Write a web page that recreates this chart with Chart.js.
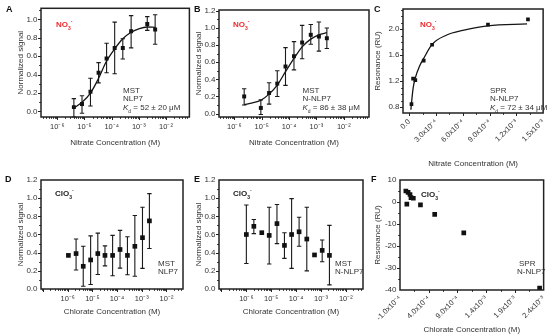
<!DOCTYPE html>
<html>
<head>
<meta charset="utf-8">
<script src="https://cdn.jsdelivr.net/npm/chart.js@4.4.0/dist/chart.umd.min.js"></script>
<style>
  body { margin: 0; background: #fff; width: 554px; height: 336px; position: relative; overflow: hidden;
         font-family: "Liberation Sans", Arial, Helvetica, sans-serif; }
  canvas { position: absolute; }
  .t { position: absolute; white-space: nowrap; font-size: 8px; line-height: 1; color: #333; }
  .lt { font-weight: bold; font-size: 9px; color: #111; }
  .ion { font-weight: bold; color: #222; }
  .red { color: #ee2a2e; }
  .t sub, .t sup { font-size: 5px; line-height: 0; }
</style>
</head>
<body>
<canvas id="cA"></canvas>
<canvas id="cB"></canvas>
<canvas id="cC"></canvas>
<canvas id="cD"></canvas>
<canvas id="cE"></canvas>
<canvas id="cF"></canvas>

<div class="t lt" style="left:6px;top:5px">A</div>
<div class="t lt" style="left:194px;top:5px">B</div>
<div class="t lt" style="left:374px;top:5px">C</div>
<div class="t lt" style="left:5px;top:175px">D</div>
<div class="t lt" style="left:194px;top:175px">E</div>
<div class="t lt" style="left:371px;top:175px">F</div>

<div class="t ion red" style="left:56px;top:20.5px">NO<sub>3</sub><sup>-</sup></div>
<div class="t ion red" style="left:233px;top:20.5px">NO<sub>3</sub><sup>-</sup></div>
<div class="t ion red" style="left:420px;top:20.5px">NO<sub>3</sub><sup>-</sup></div>
<div class="t ion" style="left:55px;top:190px">ClO<sub>3</sub><sup>-</sup></div>
<div class="t ion" style="left:233px;top:190px">ClO<sub>3</sub><sup>-</sup></div>
<div class="t ion" style="left:421px;top:191px">ClO<sub>3</sub><sup>-</sup></div>

<div class="t" style="left:123px;top:86.5px">MST</div>
<div class="t" style="left:123px;top:95px">NLP7</div>
<div class="t" style="left:123px;top:104px"><i>K</i><sub>d</sub> = 52 ± 20 μM</div>
<div class="t" style="left:302.5px;top:86.5px">MST</div>
<div class="t" style="left:302.5px;top:95px">N-NLP7</div>
<div class="t" style="left:302.5px;top:104px"><i>K</i><sub>d</sub> = 86 ± 38 μM</div>
<div class="t" style="left:490px;top:86.5px">SPR</div>
<div class="t" style="left:490px;top:95px">N-NLP7</div>
<div class="t" style="left:490px;top:104px"><i>K</i><sub>d</sub> = 72 ± 34 μM</div>
<div class="t" style="left:158px;top:260px">MST</div>
<div class="t" style="left:158px;top:268px">NLP7</div>
<div class="t" style="left:335px;top:260px">MST</div>
<div class="t" style="left:335px;top:268px">N-NLP7</div>
<div class="t" style="left:519px;top:260px">SPR</div>
<div class="t" style="left:517px;top:268px">N-NLP7</div>

<script>
var FONT = '"Liberation Sans", Arial, Helvetica, sans-serif';

// ---- A : MST, NLP7, nitrate ----
var concA = [4.07e-6, 8.1e-6, 1.66e-5, 3.3e-5, 6.5e-5, 1.29e-4, 2.57e-4, 5.2e-4, 2.04e-3, 3.98e-3];
var sigA  = [0.047, 0.08, 0.215, 0.42, 0.575, 0.69, 0.69, 0.87, 0.95, 0.89];
var hiA   = [0.14, 0.17, 0.36, 0.53, 0.74, 0.97, 0.79, 1.04, 1.03, 1.05];
var loA   = [-0.06, -0.02, 0.06, 0.31, 0.42, 0.41, 0.57, 0.69, 0.88, 0.73];
var fitAx = [4.07e-6, 8.1e-6, 1.66e-5, 3.3e-5, 6.3e-5, 1.29e-4, 2.57e-4, 5.2e-4, 1.05e-3, 2.0e-3, 3.98e-3];
var fitAy = [0.036, 0.10, 0.20, 0.36, 0.54, 0.68, 0.79, 0.86, 0.90, 0.917, 0.914];

// ---- B : MST, N-NLP7, nitrate ----
var concB = [2.29e-6, 9.3e-6, 1.86e-5, 3.7e-5, 7.4e-5, 1.51e-4, 3.0e-4, 6.2e-4, 1.23e-3, 2.4e-3];
var sigB  = [0.20, 0.066, 0.24, 0.35, 0.55, 0.67, 0.83, 0.92, 0.90, 0.88];
var hiB   = [0.29, 0.16, 0.36, 0.50, 0.77, 0.84, 1.03, 1.04, 1.07, 1.00];
var loB   = [0.10, -0.01, 0.11, 0.20, 0.33, 0.51, 0.64, 0.81, 0.73, 0.76];
var fitBx = [2.29e-6, 4.6e-6, 9.3e-6, 1.86e-5, 3.7e-5, 7.4e-5, 1.51e-4, 3.0e-4, 6.2e-4, 1.23e-3, 2.4e-3];
var fitBy = [0.105, 0.125, 0.156, 0.227, 0.332, 0.489, 0.645, 0.78, 0.87, 0.92, 0.945];

// ---- C : SPR, N-NLP7, nitrate ----
var concC = [2.5e-5, 4.3e-5, 6.8e-5, 1.62e-4, 2.56e-4, 8.82e-4, 1.33e-3];
var ruC   = [0.846, 1.24, 1.215, 1.517, 1.76, 2.07, 2.15];
var fitCx = [1.8e-5, 4.3e-5, 6.8e-5, 1.15e-4, 1.62e-4, 2.56e-4, 4.2e-4, 6.0e-4, 8.8e-4, 1.32e-3];
var fitCy = [0.76, 1.09, 1.25, 1.43, 1.55, 1.765, 1.91, 1.98, 2.05, 2.08];

// ---- D : MST, NLP7, chlorate ----
var concD = [1.07e-6, 2.19e-6, 4.27e-6, 8.5e-6, 1.66e-5, 3.24e-5, 6.6e-5, 1.32e-4, 2.63e-4, 5.25e-4, 1.07e-3, 2.04e-3];
var sigD  = [0.37, 0.39, 0.25, 0.32, 0.39, 0.37, 0.37, 0.435, 0.37, 0.47, 0.565, 0.75];
var hiD   = [0.37, 0.55, 0.47, 0.585, 0.615, 0.475, 0.59, 0.645, 0.575, 0.81, 0.90, 1.05];
var loD   = [0.37, 0.21, 0.03, 0.05, 0.16, 0.255, 0.146, 0.23, 0.157, 0.14, 0.227, 0.446];

// ---- E : MST, N-NLP7, chlorate ----
var concE = [1.0e-6, 2.0e-6, 4.17e-6, 8.3e-6, 1.7e-5, 3.4e-5, 6.6e-5, 1.32e-4, 2.69e-4, 5.5e-4, 1.12e-3, 2.19e-3];
var sigE  = [0.60, 0.69, 0.62, 0.59, 0.72, 0.48, 0.60, 0.63, 0.55, 0.375, 0.425, 0.37];
var hiE   = [0.925, 0.765, 0.62, 0.90, 0.93, 0.62, 0.995, 0.79, 0.90, 0.375, 0.54, 0.70];
var loE   = [0.28, 0.61, 0.62, 0.275, 0.50, 0.337, 0.227, 0.47, 0.20, 0.375, 0.30, 0.045];

// ---- F : SPR, N-NLP7, chlorate ----
var concF = [2e-6, 1.9e-5, 4.1e-5, 7.4e-5, 9.1e-5, 1.32e-4, 2.56e-4, 5.04e-4, 1.01e-3, 2.33e-3];
var ruF   = [5.0, -1.0, 4.4, 3.4, 2.0, 1.7, -1.3, -5.6, -14.0, -39.1];

// tick labels
var logExp = [-6, -5, -4, -3, -2];
var logLab = ['10\u207B\u2076', '10\u207B\u2075', '10\u207B\u2074', '10\u207B\u00B3', '10\u207B\u00B2'];
var sigTicksA = [0, 0.2, 0.4, 0.6, 0.8, 1.0];
var sigLabA = ['0.0', '0.2', '0.4', '0.6', '0.8', '1.0'];
var sigTicks = [0, 0.2, 0.4, 0.6, 0.8, 1.0, 1.2];
var sigLab = ['0.0', '0.2', '0.4', '0.6', '0.8', '1.0', '1.2'];
var ruTicksC = [0.8, 1.2, 1.6, 2.0];
var ruLabC = ['0.8', '1.2', '1.6', '2.0'];
var xTicksC = [0, 3e-4, 6e-4, 9e-4, 1.2e-3, 1.5e-3];
var xLabC = ['0.0', '3.0x10\u207B\u2074', '6.0x10\u207B\u2074', '9.0x10\u207B\u2074', '1.2x10\u207B\u00B3', '1.5x10\u207B\u00B3'];
var ruTicksF = [10, 0, -10, -20, -30, -40];
var ruLabF = ['10', '0', '-10', '-20', '-30', '-40'];
var xTicksF = [-1e-4, 4e-4, 9e-4, 1.4e-3, 1.9e-3, 2.4e-3];
var xLabF = ['-1.0x10\u207B\u2074', '4.0x10\u207B\u2074', '9.0x10\u207B\u2074', '1.4x10\u207B\u00B3', '1.9x10\u207B\u00B3', '2.4x10\u207B\u00B3'];

function pts(xs, ys) {
  return xs.map(function (x, i) { return { x: x, y: ys[i] }; });
}

// error bars drawn from the scales
var errorBars = {
  id: 'errorBars',
  beforeDatasetsDraw: function (chart) {
    var ctx = chart.ctx, xs = chart.scales.x, ys = chart.scales.y;
    chart.data.datasets.forEach(function (ds) {
      if (!ds.errLo) return;
      ctx.save();
      ctx.strokeStyle = '#1a1a1a';
      ctx.lineWidth = 1.1;
      ds.data.forEach(function (p, i) {
        var lo = ds.errLo[i], hi = ds.errHi[i];
        if (lo === hi) return;
        var x = xs.getPixelForValue(p.x), y1 = ys.getPixelForValue(lo), y2 = ys.getPixelForValue(hi);
        ctx.beginPath();
        ctx.moveTo(x, y1); ctx.lineTo(x, y2);
        ctx.moveTo(x - 2.2, y1); ctx.lineTo(x + 2.2, y1);
        ctx.moveTo(x - 2.2, y2); ctx.lineTo(x + 2.2, y2);
        ctx.stroke();
      });
      ctx.restore();
    });
  }
};

// box round the plot and outward tick marks
var frame = {
  id: 'frame',
  afterDraw: function (chart) {
    var a = chart.chartArea, ctx = chart.ctx;
    ctx.save();
    ctx.strokeStyle = '#222';
    ctx.lineWidth = 1;
    var xs = chart.scales.x, ys = chart.scales.y;
    ctx.beginPath();
    xs.ticks.forEach(function (t) {
      var px = Math.round(xs.getPixelForValue(t.value)) + 0.5;
      if (px < a.left + 1 || px > a.right - 1) return;
      ctx.moveTo(px, a.bottom); ctx.lineTo(px, a.bottom + (t.major ? 3 : 1.8));
    });
    ys.ticks.forEach(function (t) {
      var py = Math.round(ys.getPixelForValue(t.value)) + 0.5;
      if (py < a.top + 1 || py > a.bottom - 1) return;
      ctx.moveTo(a.left, py); ctx.lineTo(a.left - (t.major ? 3 : 1.8), py);
    });
    ctx.stroke();
    ctx.lineWidth = 1.5;
    ctx.strokeRect(a.left, a.top, a.right - a.left, a.bottom - a.top);
    ctx.restore();
  }
};

function logTicks(scale) {
  var lo = Math.floor(Math.log10(scale.min)), hi = Math.ceil(Math.log10(scale.max));
  var t = [];
  for (var e = lo; e <= hi; e++) {
    for (var k = 1; k <= 9; k++) {
      var v = k * Math.pow(10, e);
      if (v >= scale.min && v <= scale.max) t.push({ value: v, major: k === 1 });
    }
  }
  scale.ticks = t;
}

function linTicks(majors, step) {
  return function (scale) {
    var t = [];
    var k0 = Math.ceil((scale.min - majors[0]) / step - 1e-6);
    var k1 = Math.floor((scale.max - majors[0]) / step + 1e-6);
    for (var k = k0; k <= k1; k++) {
      var v = majors[0] + k * step;
      var isMaj = majors.some(function (m) { return Math.abs(m - v) < step * 1e-3; });
      t.push({ value: v, major: isMaj });
    }
    scale.ticks = t;
  };
}

function linLabel(majors, labels) {
  return function (v) {
    for (var i = 0; i < majors.length; i++) {
      if (Math.abs(majors[i] - v) < Math.abs(majors[1] - majors[0]) * 1e-3) return labels[i];
    }
    return '';
  };
}

function logLabel(v) {
  var e = Math.log10(v), r = Math.round(e);
  if (Math.abs(e - r) > 1e-6) return '';
  var j = logExp.indexOf(r);
  return j >= 0 ? logLab[j] : '';
}

function panel(p) {
  var cv = document.getElementById(p.id);
  cv.style.left = p.cl + 'px';
  cv.style.top = p.ct + 'px';
  cv.width = p.cw;
  cv.height = p.ch;
  var sets = [];
  if (p.fitX) {
    sets.push({ type: 'line', data: pts(p.fitX, p.fitY), borderColor: '#151515', borderWidth: 1.3,
                pointRadius: 0, fill: false, cubicInterpolationMode: 'monotone' });
  }
  sets.push({ type: 'scatter', data: pts(p.x, p.y), errLo: p.lo, errHi: p.hi, pointStyle: 'rect',
              pointRadius: p.r, backgroundColor: '#111', borderColor: '#111', borderWidth: 0 });
  new Chart(cv, {
    type: 'scatter',
    data: { datasets: sets },
    options: {
      responsive: false, animation: false, events: [],
      layout: { padding: { left: 0, top: p.bt - p.ct, right: p.cl + p.cw - p.br, bottom: 0 } },
      plugins: { legend: { display: false }, tooltip: { enabled: false } },
      scales: {
        x: {
          type: p.xLog ? 'logarithmic' : 'linear',
          min: p.xMin, max: p.xMax,
          grid: { display: false, drawTicks: false }, border: { display: false },
          afterBuildTicks: p.xLog ? logTicks : linTicks(p.xMaj, p.xStep),
          afterFit: function (s) { s.height = p.ct + p.ch - p.bb; },
          ticks: { autoSkip: false, minRotation: p.rot, maxRotation: p.rot, padding: p.xPad, color: '#333',
                   font: { family: FONT, size: 7.5 },
                   callback: p.xLog ? logLabel : linLabel(p.xMaj, p.xLab) },
          title: { display: true, text: p.xTitle, color: '#333', font: { family: FONT, size: 8 },
                   padding: { top: 0, bottom: p.xtPad } }
        },
        y: {
          min: p.yMin, max: p.yMax,
          grid: { display: false, drawTicks: false }, border: { display: false },
          afterBuildTicks: linTicks(p.yMaj, p.yStep),
          afterFit: function (s) { s.width = p.bl - p.cl; },
          ticks: { autoSkip: false, padding: 3.5, color: '#333', font: { family: FONT, size: 8 },
                   callback: linLabel(p.yMaj, p.yLab) },
          title: { display: true, text: p.yTitle, color: '#333', font: { family: FONT, size: 8 },
                   padding: { top: p.ytPad, bottom: 0 } }
        }
      }
    },
    plugins: [errorBars, frame]
  });
}

panel({ id: 'cA', cl: 0, ct: 0, cw: 194, ch: 152, bl: 41, bt: 8, br: 190, bb: 117,
  x: concA, y: sigA, lo: loA, hi: hiA, fitX: fitAx, fitY: fitAy, r: 2.8,
  xLog: true, xMin: Math.pow(10, -6.6), xMax: Math.pow(10, -1.14), xPad: 5, rot: 0,
  yMin: -0.06, yMax: 1.12, yMaj: sigTicksA, yLab: sigLabA, yStep: 0.1,
  xTitle: 'Nitrate Concentration (M)', yTitle: 'Normalized signal', xtPad: 4.2, ytPad: 16.2 });

panel({ id: 'cB', cl: 178, ct: 0, cw: 196, ch: 152, bl: 219, bt: 10, br: 369, bb: 117,
  x: concB, y: sigB, lo: loB, hi: hiB, fitX: fitBx, fitY: fitBy, r: 2.8,
  xLog: true, xMin: Math.pow(10, -6.56), xMax: Math.pow(10, -1.08), xPad: 5, rot: 0,
  yMin: -0.04, yMax: 1.21, yMaj: sigTicks, yLab: sigLab, yStep: 0.1,
  xTitle: 'Nitrate Concentration (M)', yTitle: 'Normalized signal', xtPad: 4.2, ytPad: 15.5 });

panel({ id: 'cC', cl: 360, ct: 0, cw: 194, ch: 170, bl: 403, bt: 9, br: 548, bb: 113,
  x: concC, y: ruC, lo: null, hi: null, fitX: fitCx, fitY: fitCy, r: 2.6,
  xLog: false, xMin: -7e-5, xMax: 1.5e-3, xMaj: xTicksC, xLab: xLabC, xStep: 1.5e-4, xPad: 4.5, rot: 45,
  yMin: 0.71, yMax: 2.31, yMaj: ruTicksC, yLab: ruLabC, yStep: 0.1,
  xTitle: 'Nitrate Concentration (M)', yTitle: 'Resonance (RU)', xtPad: 1.9, ytPad: 12.5 });

panel({ id: 'cD', cl: 0, ct: 160, cw: 194, ch: 160, bl: 41, bt: 180, br: 183, bb: 289,
  x: concD, y: sigD, lo: loD, hi: hiD, r: 3.3,
  xLog: true, xMin: Math.pow(10, -7.08), xMax: Math.pow(10, -1.33), xPad: 5.5, rot: 0,
  yMin: 0, yMax: 1.2, yMaj: sigTicks, yLab: sigLab, yStep: 0.1,
  xTitle: 'Chlorate Concentration (M)', yTitle: 'Normalized signal', xtPad: 3.2, ytPad: 15.9 });

panel({ id: 'cE', cl: 178, ct: 160, cw: 196, ch: 160, bl: 219, bt: 180, br: 363, bb: 289,
  x: concE, y: sigE, lo: loE, hi: hiE, r: 3.3,
  xLog: true, xMin: Math.pow(10, -7.1), xMax: Math.pow(10, -1.31), xPad: 5.5, rot: 0,
  yMin: 0, yMax: 1.2, yMaj: sigTicks, yLab: sigLab, yStep: 0.1,
  xTitle: 'Chlorate Concentration (M)', yTitle: 'Normalized signal', xtPad: 3.2, ytPad: 15.5 });

panel({ id: 'cF', cl: 360, ct: 160, cw: 194, ch: 176, bl: 400, bt: 180, br: 548, bb: 290,
  x: concF, y: ruF, lo: null, hi: null, r: 3.3,
  xLog: false, xMin: -1e-4, xMax: 2.4e-3, xMaj: xTicksF, xLab: xLabF, xStep: 2.5e-4, xPad: 4, rot: 45,
  yMin: -40, yMax: 10, yMaj: ruTicksF, yLab: ruLabF, yStep: 5,
  xTitle: 'Chlorate Concentration (M)', yTitle: 'Resonance (RU)', xtPad: 1.9, ytPad: 12.5 });
</script>
</body>
</html>
